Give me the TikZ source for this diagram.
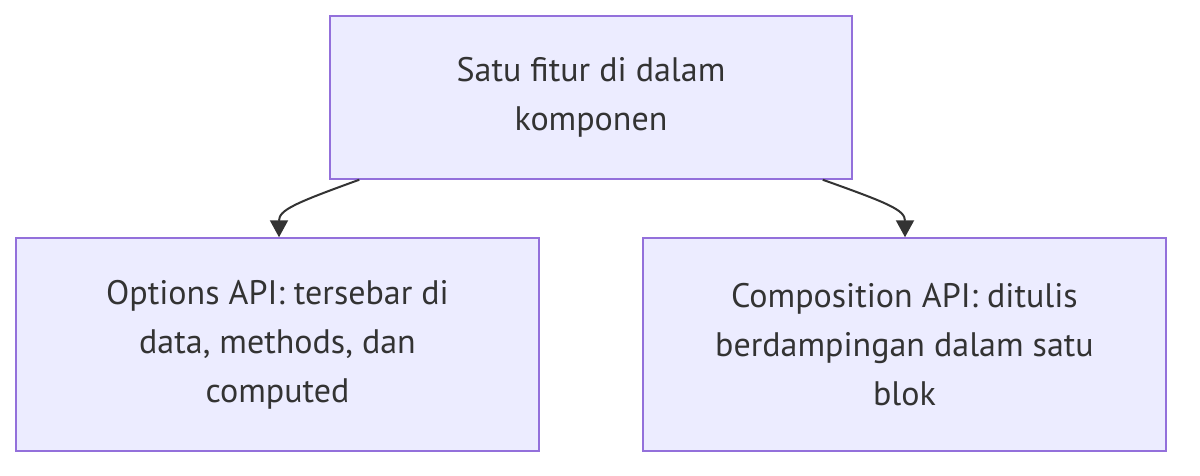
\documentclass[tikz,border=0pt]{standalone}
\usepackage{fontspec}
\setmainfont{PT Sans}
\usetikzlibrary{arrows.meta,calc}
\definecolor{boxfill}{HTML}{ECECFF}
\definecolor{boxline}{HTML}{9370DB}
\definecolor{txt}{HTML}{333333}
\begin{document}
\begin{tikzpicture}[x=1pt,y=-1pt,
  box/.style={draw=boxline,fill=boxfill,line width=1.5pt,inner sep=0pt,
    text=txt,align=center,font=\fontsize{34}{49}\selectfont},
  conn/.style={draw=txt,line width=2pt,-{Triangle[length=17pt,width=18pt]}}]
\useasboundingbox (0,0) rectangle (1200,475);
\node[box,minimum width=522pt,minimum height=163pt] (top) at (591,97.5) {Satu fitur di dalam\\komponen};
\node[box,minimum width=523pt,minimum height=213pt] (left) at (277.5,344.5) {Options API: tersebar di\\data, methods, dan\\computed};
\node[box,minimum width=523pt,minimum height=213pt] (right) at (904.5,344.5) {Composition API: ditulis\\berdampingan dalam satu\\blok};
\coordinate (ls) at ($(top.south west)+(30,0)$);
\coordinate (rs) at ($(top.south east)+(-30,0)$);
\draw[conn] (ls) .. controls (295,203) and (279,210) .. (left.north -| 279,0);
\draw[conn] (rs) .. controls (888,203) and (905,210) .. (right.north -| 905,0);
\end{tikzpicture}
\end{document}
